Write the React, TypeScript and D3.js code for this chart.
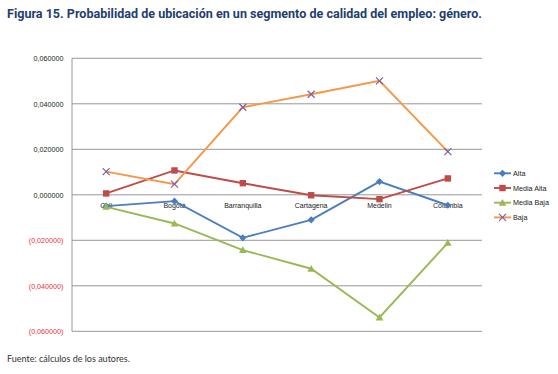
import React, { useRef, useEffect } from 'react';
import * as d3 from 'd3';

const cities = ['Cali', 'Bogotá', 'Barranquilla', 'Cartagena', 'Medelin', 'Colombia'];
const alta = [-0.0050, -0.0028, -0.0189, -0.0110, 0.0058, -0.0046];
const mediaAlta = [0.0006, 0.0107, 0.0051, -0.0002, -0.0019, 0.0072];
const mediaBaja = [-0.0053, -0.0126, -0.0243, -0.0325, -0.0539, -0.0211];
const baja = [0.0102, 0.0047, 0.0385, 0.0442, 0.0501, 0.0190];
const yTicks = [0.06, 0.04, 0.02, 0, -0.02, -0.04, -0.06];

const series = [
  { name: 'Alta', values: alta, color: '#4a7ebb', marker: 'diamond', markerColor: '#4a7ebb' },
  { name: 'Media Alta', values: mediaAlta, color: '#be4b48', marker: 'square', markerColor: '#be4b48' },
  { name: 'Media Baja', values: mediaBaja, color: '#98b954', marker: 'triangle', markerColor: '#98b954' },
  { name: 'Baja', values: baja, color: '#f79646', marker: 'x', markerColor: '#7d60a0' },
];

const fmt = (v: number) => {
  const s = Math.abs(v).toFixed(6).replace('.', ',');
  return v < 0 ? `(${s})` : s;
};

const drawMarker = (g: any, type: string, x: number, y: number, color: string) => {
  if (type === 'diamond') {
    g.append('path').attr('d', `M${x},${y - 3.6}L${x + 3.6},${y}L${x},${y + 3.6}L${x - 3.6},${y}Z`).attr('fill', color);
  } else if (type === 'square') {
    g.append('rect').attr('x', x - 3.2).attr('y', y - 3.2).attr('width', 6.4).attr('height', 6.4).attr('fill', color);
  } else if (type === 'triangle') {
    g.append('path').attr('d', `M${x},${y - 3.8}L${x + 3.8},${y + 3}L${x - 3.8},${y + 3}Z`).attr('fill', color);
  } else {
    g.append('path').attr('d', `M${x - 3.5},${y - 3.5}L${x + 3.5},${y + 3.5}M${x - 3.5},${y + 3.5}L${x + 3.5},${y - 3.5}`)
      .attr('stroke', color).attr('stroke-width', 1.2);
  }
};

const App = () => {
  const svgRef = useRef<SVGSVGElement>(null);

  useEffect(() => {
    const svg = d3.select(svgRef.current);
    svg.selectAll('*').remove();
    const width = 558, height = 374;
    const margin = { left: 72, right: 76, top: 58.3, bottom: 42.7 };

    svg.append('rect').attr('width', width).attr('height', height).attr('fill', '#fff');

    svg.append('text')
      .attr('x', 7).attr('y', 17.5)
      .attr('fill', '#1f3e70')
      .attr('font-family', 'Roboto, sans-serif')
      .attr('font-weight', 'bold')
      .attr('font-size', 12)
      .attr('textLength', 475)
      .attr('lengthAdjust', 'spacingAndGlyphs')
      .text('Figura 15. Probabilidad de ubicación en un segmento de calidad del empleo: género.');

    const x = d3.scaleBand().domain(cities).range([margin.left, width - margin.right]);
    const y = d3.scaleLinear().domain([-0.06, 0.06]).range([height - margin.bottom, margin.top]);

    const grid = svg.append('g');
    yTicks.forEach(t => {
      grid.append('line')
        .attr('x1', margin.left).attr('x2', width - margin.right)
        .attr('y1', y(t)).attr('y2', y(t))
        .attr('stroke', '#8c8c8c').attr('stroke-width', 0.9);
      grid.append('text')
        .attr('x', 63.5).attr('y', y(t) + 2.7)
        .attr('text-anchor', 'end')
        .attr('font-family', 'Liberation Sans, Arial, sans-serif')
        .attr('font-size', 7.2)
        .attr('fill', t < 0 ? '#e8323f' : '#222')
        .text(fmt(t));
    });
    grid.append('line')
      .attr('x1', margin.left).attr('x2', margin.left)
      .attr('y1', y(0.06)).attr('y2', y(-0.06))
      .attr('stroke', '#8c8c8c').attr('stroke-width', 0.9);

    const cx = (c: string) => (x(c) as number) + x.bandwidth() / 2;

    // category labels sit just under the zero line
    cities.forEach(c => {
      svg.append('text')
        .attr('x', cx(c)).attr('y', y(0) + 13)
        .attr('text-anchor', 'middle')
        .attr('font-family', 'Liberation Sans, Arial, sans-serif')
        .attr('font-size', 7)
        .attr('fill', '#222')
        .text(c);
    });

    const line = d3.line<number>().x((_, i) => cx(cities[i])).y(d => y(d));

    series.forEach(s => {
      svg.append('path')
        .attr('d', line(s.values))
        .attr('fill', 'none')
        .attr('stroke', s.color)
        .attr('stroke-width', 1.9);
    });
    series.forEach(s => {
      const g = svg.append('g');
      s.values.forEach((v, i) => drawMarker(g, s.marker, cx(cities[i]), y(v), s.markerColor));
    });

    const legend = svg.append('g');
    series.forEach((s, i) => {
      const ly = 173.3 + i * 14.7;
      legend.append('line')
        .attr('x1', 494).attr('x2', 511).attr('y1', ly).attr('y2', ly)
        .attr('stroke', s.color).attr('stroke-width', 1.9);
      drawMarker(legend, s.marker, 502.5, ly, s.markerColor);
      legend.append('text')
        .attr('x', 513).attr('y', ly + 2.6)
        .attr('font-family', 'Liberation Sans, Arial, sans-serif')
        .attr('font-size', 7.2)
        .attr('fill', '#222')
        .text(s.name);
    });

    svg.append('text')
      .attr('x', 7).attr('y', 362)
      .attr('font-family', 'Lato, sans-serif')
      .attr('font-size', 9)
      .attr('fill', '#333')
      .text('Fuente: cálculos de los autores.');
  }, []);

  return (
    <svg ref={svgRef} width={558} height={374} style={{ position: 'absolute', left: 0, top: 0 }} />
  );
};

export default App;
